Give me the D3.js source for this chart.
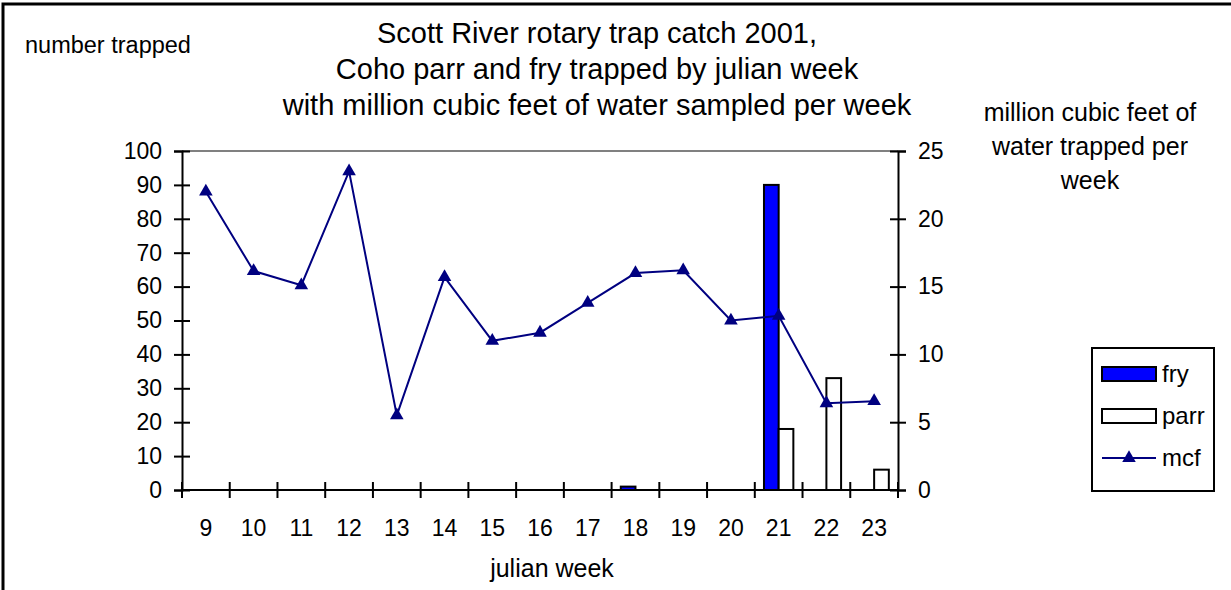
<!DOCTYPE html>
<html>
<head>
<meta charset="utf-8">
<script src="https://cdn.jsdelivr.net/npm/d3@7"></script>
<style>
  body { margin: 0; background: #fff; }
  text { font-family: "Liberation Sans", Arial, sans-serif; fill: #000; }
</style>
</head>
<body>
<svg id="chart" width="1231" height="590"></svg>
<script>
// Julian weeks sampled
const weeks = ["9", "10", "11", "12", "13", "14", "15", "16", "17", "18", "19", "20", "21", "22", "23"];
// Coho fry and parr caught per week
const fry  = [0, 0, 0, 0, 0, 0, 0, 0, 0, 1, 0, 0, 90, 0, 0];
const parr = [0, 0, 0, 0, 0, 0, 0, 0, 0, 0, 0, 0, 18, 33, 6];
// Million cubic feet of water sampled per week
const mcf  = [22.0, 16.15, 15.1, 23.5, 5.5, 15.7, 11.0, 11.6, 13.8, 16.0, 16.2, 12.5, 12.85, 6.4, 6.55];
// Axis ticks
const countTicks = [0, 10, 20, 30, 40, 50, 60, 70, 80, 90, 100];
const mcfTicks = [0, 5, 10, 15, 20, 25];

const titleLines = [
  "Scott River rotary trap catch 2001,",
  "Coho parr and fry trapped by julian week",
  "with million cubic feet of water sampled per week"
];
const rightTitleLines = ["million cubic feet of", "water trapped per", "week"];

const svg = d3.select("#chart");
const plot = { left: 182, right: 898, top: 151, bottom: 490 };
const tickFont = 23;

const x = d3.scaleBand().domain(weeks).range([plot.left, plot.right]).padding(0);
const yCount = d3.scaleLinear().domain([0, 100]).range([plot.bottom, plot.top]);
const yMcf = d3.scaleLinear().domain([0, 25]).range([plot.bottom, plot.top]);

const step = x.bandwidth();
const barW = step / 3.25;
const groupOffset = (step - 2 * barW) / 2;

// chart frame
svg.append("rect")
  .attr("x", 3).attr("y", 4).attr("width", 1400).attr("height", 800)
  .attr("fill", "none").attr("stroke", "#000").attr("stroke-width", 3);

// top border of the plot area
svg.append("line")
  .attr("x1", plot.left).attr("x2", plot.right)
  .attr("y1", plot.top).attr("y2", plot.top)
  .attr("stroke", "#808080").attr("stroke-width", 2);

// bars
const series = [
  { name: "fry", values: fry, fill: "#0000ff", idx: 0 },
  { name: "parr", values: parr, fill: "#ffffff", idx: 1 }
];
series.forEach(s => {
  svg.append("g").selectAll("rect")
    .data(weeks.map((w, i) => ({ w, v: s.values[i] })).filter(d => d.v > 0))
    .join("rect")
    .attr("x", d => x(d.w) + groupOffset + s.idx * barW)
    .attr("y", d => yCount(d.v))
    .attr("width", barW)
    .attr("height", d => yCount(0) - yCount(d.v))
    .attr("fill", s.fill)
    .attr("stroke", "#000")
    .attr("stroke-width", 2);
});

// left axis
const axL = svg.append("g")
  .attr("transform", `translate(${plot.left},0)`)
  .call(d3.axisLeft(yCount).tickValues(countTicks).tickSize(8).tickPadding(12));
axL.selectAll(".tick line").attr("x1", 8).attr("x2", -8);

// right axis
const axR = svg.append("g")
  .attr("transform", `translate(${plot.right},0)`)
  .call(d3.axisRight(yMcf).tickValues(mcfTicks).tickSize(8).tickPadding(12));
axR.selectAll(".tick line").attr("x1", -8).attr("x2", 8);

// bottom axis: labels centred in categories
const axB = svg.append("g")
  .attr("transform", `translate(0,${plot.bottom})`)
  .call(d3.axisBottom(x).tickSize(0).tickPadding(30));
axB.select(".domain").remove();

// bottom axis line and category boundary ticks
svg.append("line")
  .attr("x1", plot.left).attr("x2", plot.right)
  .attr("y1", plot.bottom).attr("y2", plot.bottom)
  .attr("stroke", "#000").attr("stroke-width", 2);
const bounds = weeks.map(w => x(w)).concat([x(weeks[weeks.length - 1]) + step]);
svg.append("g").selectAll("line")
  .data(bounds)
  .join("line")
  .attr("x1", d => d).attr("x2", d => d)
  .attr("y1", plot.bottom - 8).attr("y2", plot.bottom + 8)
  .attr("stroke", "#000").attr("stroke-width", 2);

[axL, axR, axB].forEach(g => {
  g.selectAll(".domain").attr("stroke", "#000").attr("stroke-width", 2);
  g.selectAll(".tick line").attr("stroke", "#000").attr("stroke-width", 2);
  g.selectAll("text").attr("font-size", tickFont).attr("font-family", "Liberation Sans, Arial, sans-serif").attr("fill", "#000");
});

// mcf line with triangle markers
const line = d3.line()
  .x((d, i) => x(weeks[i]) + step / 2)
  .y(d => yMcf(d));
svg.append("path")
  .datum(mcf)
  .attr("d", line)
  .attr("fill", "none")
  .attr("stroke", "#000080")
  .attr("stroke-width", 2);
const tri = d3.symbol().type(d3.symbolTriangle).size(80);
svg.append("g").selectAll("path")
  .data(mcf)
  .join("path")
  .attr("transform", (d, i) => `translate(${x(weeks[i]) + step / 2},${yMcf(d)})`)
  .attr("d", tri)
  .attr("fill", "#000080");

// titles
svg.append("text")
  .attr("text-anchor", "middle")
  .attr("font-size", 29)
  .selectAll("tspan")
  .data(titleLines)
  .join("tspan")
  .attr("x", 597)
  .attr("y", (d, i) => 43 + i * 36)
  .text(d => d);

svg.append("text")
  .attr("x", 25).attr("y", 53)
  .attr("font-size", 23.5)
  .text("number trapped");

svg.append("text")
  .attr("text-anchor", "middle")
  .attr("font-size", 25)
  .selectAll("tspan")
  .data(rightTitleLines)
  .join("tspan")
  .attr("x", 1090)
  .attr("y", (d, i) => 121 + i * 34)
  .text(d => d);

svg.append("text")
  .attr("x", 552).attr("y", 577)
  .attr("text-anchor", "middle")
  .attr("font-size", 25)
  .text("julian week");

// legend
const lg = svg.append("g");
lg.append("rect")
  .attr("x", 1092).attr("y", 348).attr("width", 122).attr("height", 143)
  .attr("fill", "#fff").attr("stroke", "#000").attr("stroke-width", 2);
const legendItems = [
  { name: "fry", type: "bar", fill: "#0000ff" },
  { name: "parr", type: "bar", fill: "#ffffff" },
  { name: "mcf", type: "line" }
];
const lgY = d3.scalePoint().domain(legendItems.map(d => d.name)).range([374, 458]);
legendItems.forEach(d => {
  const cy = lgY(d.name);
  if (d.type === "bar") {
    lg.append("rect")
      .attr("x", 1102).attr("y", cy - 7).attr("width", 54).attr("height", 14)
      .attr("fill", d.fill).attr("stroke", "#000").attr("stroke-width", 2);
  } else {
    lg.append("line")
      .attr("x1", 1102).attr("x2", 1156).attr("y1", cy).attr("y2", cy)
      .attr("stroke", "#000080").attr("stroke-width", 2);
    lg.append("path")
      .attr("transform", `translate(1129,${cy})`)
      .attr("d", tri).attr("fill", "#000080");
  }
  lg.append("text")
    .attr("x", 1162).attr("y", cy + 8)
    .attr("font-size", 24)
    .text(d.name);
});
</script>
</body>
</html>
